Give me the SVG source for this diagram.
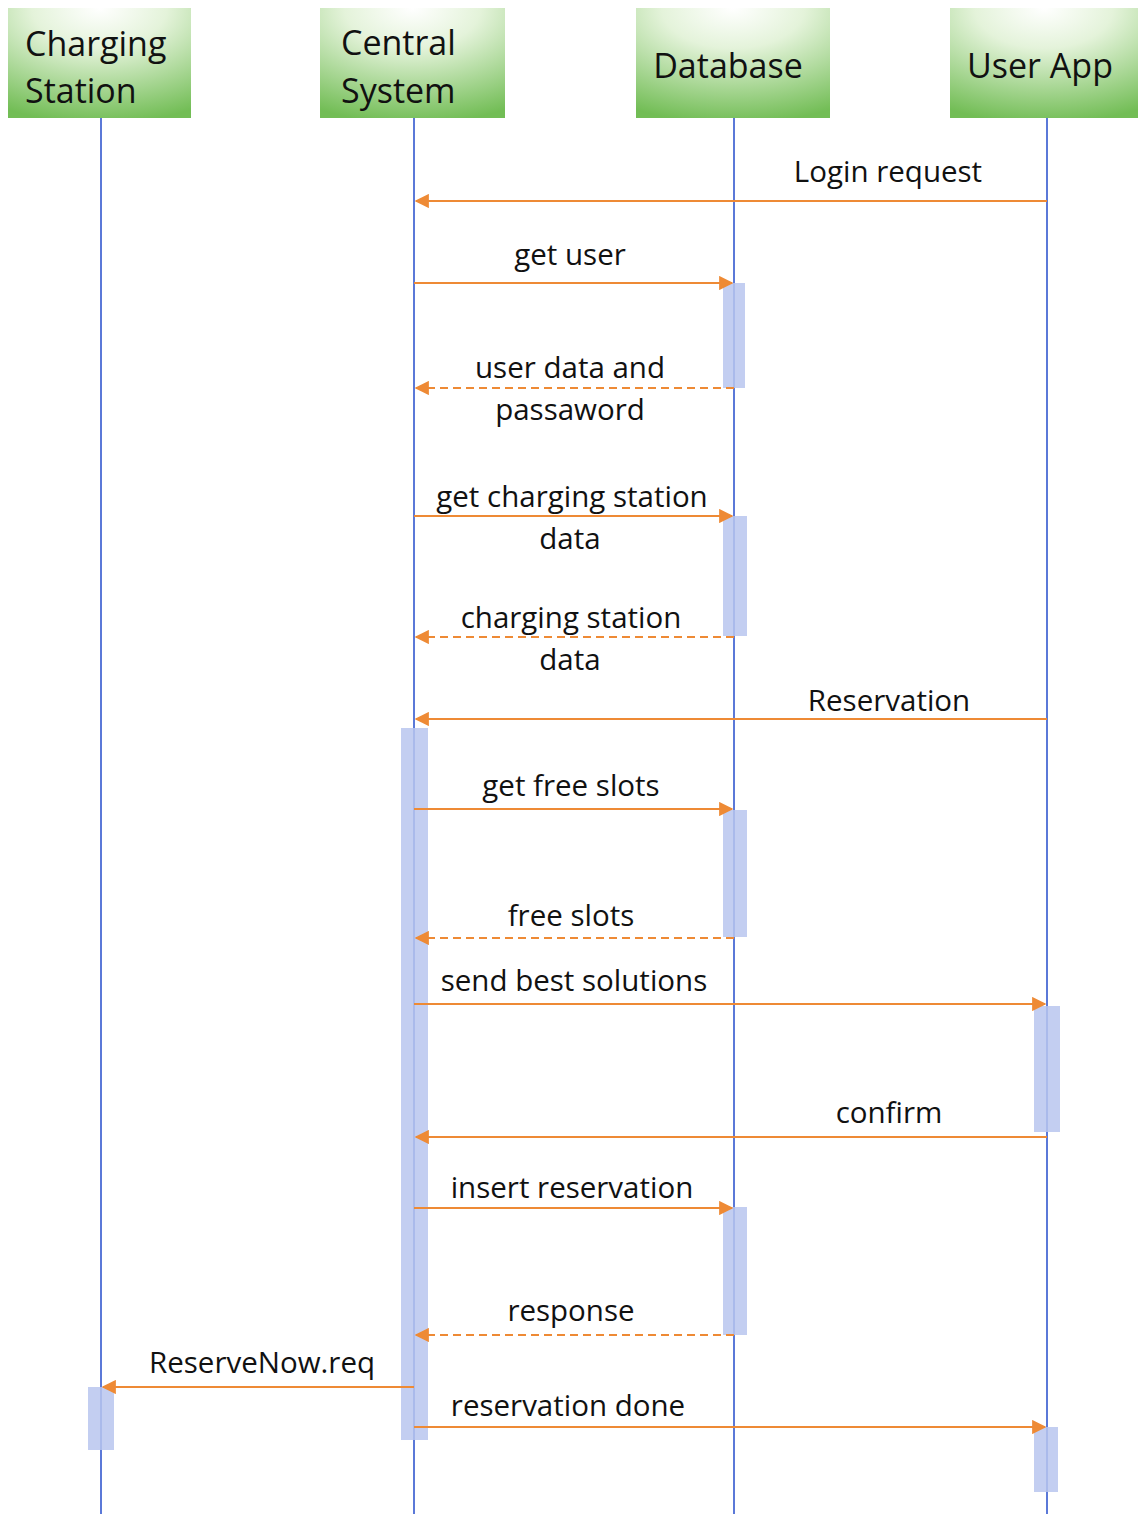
<svg xmlns="http://www.w3.org/2000/svg" width="1138" height="1514" viewBox="0 0 1138 1514">
<style>
.hdr{font-family:"Open Sans","Liberation Sans",sans-serif;font-size:34px;fill:#111}
.lbl{font-family:"Open Sans","Liberation Sans",sans-serif;font-size:29.5px;fill:#111;text-anchor:middle}
.life{stroke:#5b79d8;stroke-width:2;fill:none}
.msg{stroke:#ee8a35;stroke-width:2.2;fill:none;marker-end:url(#ah)}
.ret{stroke:#ee8a35;stroke-width:2.2;fill:none;stroke-dasharray:8 5;marker-end:url(#ah)}
.act{fill:#b8c6ee;opacity:0.85}
.box{fill:url(#g)}
</style>
<defs>
<radialGradient id="g" cx="50%" cy="0%" r="105%" fx="50%" fy="0%">
<stop offset="0" stop-color="#ffffff"/>
<stop offset="0.35" stop-color="#e4f3da"/>
<stop offset="1" stop-color="#72bd55"/>
</radialGradient>
<marker id="ah" viewBox="0 0 10 10" refX="9" refY="5" markerWidth="6.5" markerHeight="6.5" orient="auto" markerUnits="strokeWidth">
<path d="M0,0 L10,5 L0,10 z" fill="#ee8a35"/>
</marker>
</defs>

<g id="lifelines">
<line class="life" x1="101" y1="118" x2="101" y2="1514"/>
<line class="life" x1="414" y1="118" x2="414" y2="1514"/>
<line class="life" x1="734" y1="118" x2="734" y2="1514"/>
<line class="life" x1="1047" y1="118" x2="1047" y2="1514"/>
</g>

<g id="activations">
<rect class="act" x="723" y="283" width="22" height="105"/>
<rect class="act" x="723" y="516" width="24" height="120"/>
<rect class="act" x="401" y="728" width="27" height="712"/>
<rect class="act" x="723" y="810" width="24" height="127"/>
<rect class="act" x="1034" y="1006" width="26" height="126"/>
<rect class="act" x="723" y="1207" width="24" height="128"/>
<rect class="act" x="88" y="1387" width="26" height="63"/>
<rect class="act" x="1034" y="1427" width="24" height="65"/>
</g>

<g id="node-charging-station">
<rect class="box" x="8" y="8" width="183" height="110"/>
<text class="hdr" x="25" y="56">Charging</text>
<text class="hdr" x="25" y="103">Station</text>
</g>
<g id="node-central-system">
<rect class="box" x="320" y="8" width="185" height="110"/>
<text class="hdr" x="341" y="55">Central</text>
<text class="hdr" x="341" y="103">System</text>
</g>
<g id="node-database">
<rect class="box" x="636" y="8" width="194" height="110"/>
<text class="hdr" x="728" y="78" text-anchor="middle">Database</text>
</g>
<g id="node-user-app">
<rect class="box" x="950" y="8" width="188" height="110"/>
<text class="hdr" x="1040" y="78" text-anchor="middle">User App</text>
</g>

<g id="connectors">
<line class="msg" x1="1047" y1="201" x2="416" y2="201"/>
<text class="lbl" x="888" y="182">Login request</text>

<line class="msg" x1="414" y1="283" x2="732" y2="283"/>
<text class="lbl" x="570" y="265">get user</text>

<line class="ret" x1="734" y1="388" x2="416" y2="388"/>
<text class="lbl" x="570" y="378">user data and</text>
<text class="lbl" x="570" y="420">passaword</text>

<line class="msg" x1="414" y1="516" x2="732" y2="516"/>
<text class="lbl" x="572" y="507">get charging station</text>
<text class="lbl" x="570" y="549">data</text>

<line class="ret" x1="734" y1="637" x2="416" y2="637"/>
<text class="lbl" x="571" y="628">charging station</text>
<text class="lbl" x="570" y="670">data</text>

<line class="msg" x1="1047" y1="719" x2="416" y2="719"/>
<text class="lbl" x="889" y="711">Reservation</text>

<line class="msg" x1="414" y1="809" x2="732" y2="809"/>
<text class="lbl" x="571" y="796">get free slots</text>

<line class="ret" x1="734" y1="938" x2="416" y2="938"/>
<text class="lbl" x="571" y="926">free slots</text>

<line class="msg" x1="414" y1="1004" x2="1045" y2="1004"/>
<text class="lbl" x="574" y="991">send best solutions</text>

<line class="msg" x1="1047" y1="1137" x2="416" y2="1137"/>
<text class="lbl" x="889" y="1123">confirm</text>

<line class="msg" x1="414" y1="1208" x2="732" y2="1208"/>
<text class="lbl" x="572" y="1198">insert reservation</text>

<line class="ret" x1="734" y1="1335" x2="416" y2="1335"/>
<text class="lbl" x="571" y="1321">response</text>

<line class="msg" x1="414" y1="1387" x2="103" y2="1387"/>
<text class="lbl" x="262" y="1373">ReserveNow.req</text>

<line class="msg" x1="414" y1="1427" x2="1045" y2="1427"/>
<text class="lbl" x="568" y="1416">reservation done</text>
</g>
</svg>
